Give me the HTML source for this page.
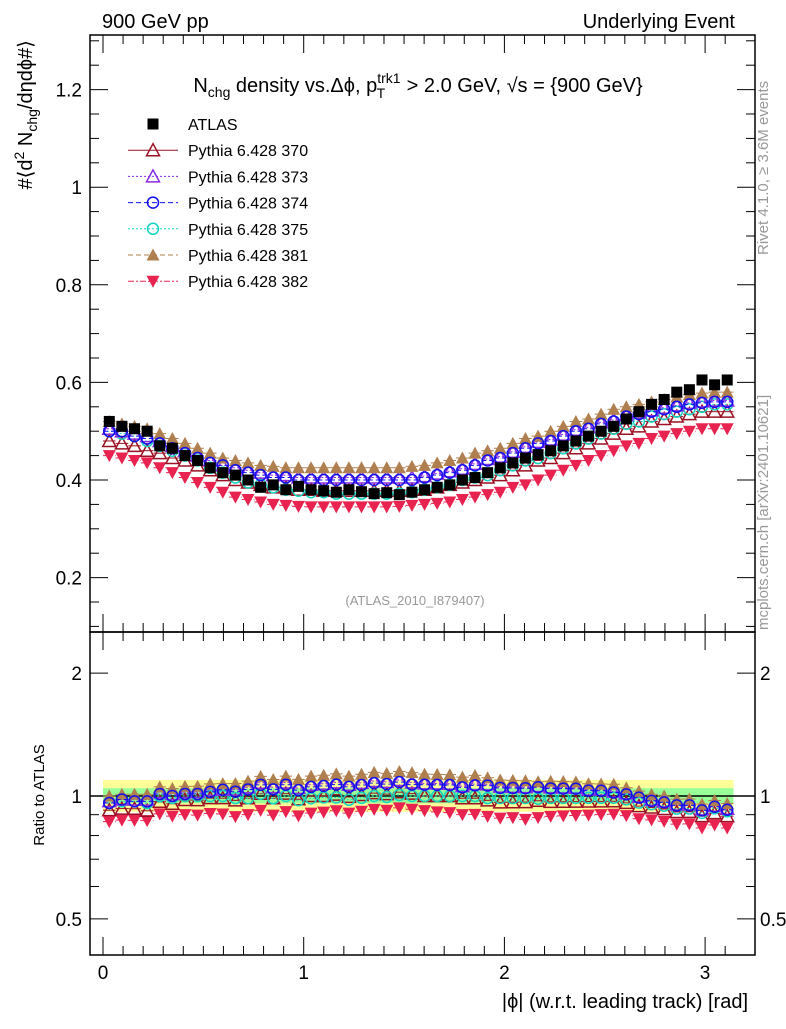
<!DOCTYPE html>
<html><head><meta charset="utf-8"><style>
body{margin:0;background:#fff;width:786px;height:1024px;overflow:hidden}
svg text{font-family:"Liberation Sans",sans-serif}
</style></head><body>
<svg id="c" width="786" height="1024" xmlns="http://www.w3.org/2000/svg">
<text x="102" y="28" font-size="20">900 GeV pp</text>
<text x="735" y="28" font-size="20" text-anchor="end">Underlying Event</text>
<g id="plot"></g>
<text x="418" y="92" font-size="20" text-anchor="middle">N<tspan font-size="14" dy="5">chg</tspan><tspan dy="-5"> density vs.Δϕ, p</tspan><tspan font-size="14" dy="-9">trk1</tspan><tspan font-size="14" dx="-24" dy="15">T</tspan><tspan dx="16" dy="-6"> &gt; 2.0 GeV, √s = {900 GeV}</tspan></text>
<text x="415" y="605" font-size="13" fill="#999" text-anchor="middle">(ATLAS_2010_I879407)</text>
<text transform="translate(32,40) rotate(-90)" font-size="20" text-anchor="end">#⟨d<tspan font-size="14" dy="-8">2</tspan><tspan dy="8"> N</tspan><tspan font-size="14" dy="5">chg</tspan><tspan dy="-5">/dηdϕ#⟩</tspan></text>
<text transform="translate(44,795) rotate(-90)" font-size="15" text-anchor="middle">Ratio to ATLAS</text>
<text x="748" y="1008" font-size="20" text-anchor="end">|ϕ| (w.r.t. leading track) [rad]</text>
<text transform="translate(768,255) rotate(-90)" font-size="15" fill="#999">Rivet 4.1.0, ≥ 3.6M events</text>
<text transform="translate(768,630) rotate(-90)" font-size="15" fill="#999">mcplots.cern.ch [arXiv:2401.10621]</text>
</svg>
<script>
const atlas=[0.52,0.51,0.505,0.50,0.47,0.465,0.45,0.44,0.425,0.415,0.41,0.40,0.385,0.39,0.38,0.387,0.38,0.378,0.375,0.38,0.376,0.372,0.374,0.37,0.375,
0.38,0.385,0.39,0.40,0.405,0.415,0.425,0.435,0.445,0.452,0.46,0.47,0.48,0.49,0.50,0.51,0.525,0.54,0.555,0.565,0.58,0.585,0.605,0.595,0.605];
const s370=[0.48,0.475,0.47,0.46,0.455,0.445,0.44,0.43,0.42,0.41,0.40,0.395,0.39,0.385,0.385,0.38,0.38,0.378,0.378,0.378,0.378,0.378,0.378,0.378,0.38,
0.38,0.385,0.39,0.395,0.40,0.405,0.41,0.42,0.43,0.44,0.445,0.455,0.465,0.475,0.485,0.495,0.505,0.51,0.52,0.525,0.53,0.535,0.54,0.54,0.54];
const s373=[0.505,0.50,0.495,0.49,0.48,0.47,0.46,0.45,0.44,0.43,0.425,0.42,0.415,0.41,0.41,0.405,0.405,0.405,0.405,0.405,0.405,0.405,0.405,0.405,0.405,
0.408,0.413,0.418,0.423,0.433,0.443,0.448,0.458,0.468,0.478,0.483,0.493,0.503,0.508,0.518,0.523,0.533,0.538,0.543,0.548,0.553,0.558,0.561,0.563,0.563];
const s374=[0.50,0.50,0.49,0.485,0.475,0.465,0.455,0.445,0.435,0.43,0.42,0.415,0.41,0.405,0.405,0.40,0.40,0.40,0.40,0.40,0.40,0.40,0.40,0.40,0.40,
0.405,0.41,0.415,0.42,0.43,0.44,0.445,0.455,0.465,0.475,0.48,0.49,0.50,0.505,0.515,0.52,0.53,0.535,0.54,0.545,0.55,0.555,0.558,0.56,0.56];
const s375=[0.50,0.495,0.49,0.48,0.47,0.46,0.45,0.44,0.425,0.415,0.405,0.395,0.39,0.385,0.38,0.378,0.375,0.375,0.372,0.372,0.372,0.372,0.372,0.372,0.375,
0.38,0.385,0.39,0.40,0.405,0.41,0.42,0.43,0.44,0.445,0.455,0.465,0.475,0.485,0.495,0.505,0.515,0.52,0.53,0.535,0.54,0.545,0.55,0.555,0.555];
const s381=[0.52,0.515,0.51,0.505,0.495,0.485,0.475,0.465,0.455,0.445,0.44,0.435,0.43,0.428,0.425,0.425,0.425,0.425,0.425,0.425,0.425,0.425,0.425,0.425,0.428,
0.43,0.435,0.44,0.445,0.455,0.46,0.465,0.475,0.485,0.49,0.50,0.51,0.52,0.525,0.535,0.545,0.55,0.555,0.56,0.565,0.57,0.575,0.578,0.58,0.58];
const s382=[0.45,0.445,0.44,0.435,0.425,0.415,0.405,0.395,0.385,0.375,0.365,0.36,0.355,0.35,0.348,0.346,0.345,0.345,0.345,0.345,0.345,0.345,0.345,0.346,0.348,
0.35,0.352,0.355,0.36,0.365,0.37,0.375,0.385,0.39,0.40,0.41,0.42,0.43,0.44,0.45,0.46,0.47,0.475,0.485,0.49,0.495,0.50,0.505,0.505,0.505];
const xTicks=[0,1,2,3], yTicks=[0.2,0.4,0.6,0.8,1,1.2], rTicks=[0.5,1,2];
const NS="http://www.w3.org/2000/svg";
const L=90,R=755,T=35,M=632,B=955;
const X=v=>103+v*200.7;
const Y=v=>480-(v-0.4)*488;
const RY=v=>796-Math.log10(v)*408;
const g=document.getElementById('plot');
function mk(tag,at,parent){const e=document.createElementNS(NS,tag);for(const k in at)e.setAttribute(k,at[k]);(parent||g).appendChild(e);return e;}
let e=mk('rect',{x:X(0),y:RY(1.095),width:X(Math.PI)-X(0),height:RY(0.915)-RY(1.095),fill:'#ffff99'});


e=mk('rect',{x:X(0),y:RY(1.045),width:X(Math.PI)-X(0),height:RY(0.96)-RY(1.045),fill:'#99ff99'});


e=mk('line',{x1:L,x2:R,y1:RY(1),y2:RY(1),stroke:'#000','stroke-width':1.5});


e=mk('rect',{x:L,y:T,width:R-L,height:M-T,fill:'none',stroke:'#000','stroke-width':1.5});


e=mk('rect',{x:L,y:M,width:R-L,height:B-M,fill:'none',stroke:'#000','stroke-width':1.5});


for(let v=0.1;v<=1.31;v+=0.05){const maj=Math.abs(v*5-Math.round(v*5))<1e-6;const y=Y(v);if(y<T||y>M)continue;const w=maj?18:9;
 mk('line',{x1:L,x2:L+w,y1:y,y2:y,stroke:'#000'});mk('line',{x1:R,x2:R-w,y1:y,y2:y,stroke:'#000'});}
yTicks.forEach(v=>{const t=mk('text',{x:L-8,y:Y(v)+7,'font-size':19,'text-anchor':'end'});t.textContent=v;

});
[0.4,0.5,0.6,0.7,0.8,0.9,1,2].forEach(v=>{const y=RY(v);if(y<M||y>B)return;const w=(v==0.5||v==1||v==2)?18:9;
 mk('line',{x1:L,x2:L+w,y1:y,y2:y,stroke:'#000'});mk('line',{x1:R,x2:R-w,y1:y,y2:y,stroke:'#000'});});
rTicks.forEach(v=>{let t=mk('text',{x:L-8,y:RY(v)+7,'font-size':19,'text-anchor':'end'});t.textContent=v;


t=mk('text',{x:R+5,y:RY(v)+7,'font-size':19});t.textContent=v;

});
for(let v=0;v<=3.2;v+=0.1){const x=X(v);if(x>R)break;const maj=Math.abs(v-Math.round(v))<1e-6;const w=maj?18:9;
 [[M,M-w],[T,T+w],[B,B-w],[M,M+w]].forEach(p=>mk('line',{x1:x,x2:x,y1:p[0],y2:p[1],stroke:'#000'}));}
xTicks.forEach(v=>{const t=mk('text',{x:X(v),y:979,'font-size':19,'text-anchor':'middle'});t.textContent=v;

});
function marker(type,col,cx,cy,par){
 if(type=='sq')return mk('rect',{x:cx-5.5,y:cy-5.5,width:11,height:11,fill:col},par);
 if(type=='ot')return mk('polygon',{points:`${cx},${cy-6.5} ${cx-6.5},${cy+5.5} ${cx+6.5},${cy+5.5}`,fill:'none',stroke:col,'stroke-width':1.5},par);
 if(type=='ft')return mk('polygon',{points:`${cx},${cy-6.5} ${cx-6.5},${cy+5.5} ${cx+6.5},${cy+5.5}`,fill:col},par);
 if(type=='dt')return mk('polygon',{points:`${cx},${cy+6.5} ${cx-6.5},${cy-5.5} ${cx+6.5},${cy-5.5}`,fill:col},par);
 if(type=='oc')return mk('circle',{cx,cy,r:5.5,fill:'none',stroke:col,'stroke-width':1.5},par);
}
const series=[
 {n:'Pythia 6.428 382',d:s382,c:'#e8234f',m:'dt',dash:'6,2,2,2'},
 {n:'Pythia 6.428 370',d:s370,c:'#9b1022',m:'ot',dash:''},
 {n:'Pythia 6.428 375',d:s375,c:'#14d3c0',m:'oc',dash:'2,2'},
 {n:'Pythia 6.428 373',d:s373,c:'#8a2be2',m:'ot',dash:'2,2'},
 {n:'Pythia 6.428 381',d:s381,c:'#b07f50',m:'ft',dash:'5,3'},
 {n:'Pythia 6.428 374',d:s374,c:'#1010ee',m:'oc',dash:'5,3'},
];
const xs=atlas.map((_,i)=>(i+0.5)*Math.PI/50);
const bw=(Math.PI/50)*200.7/2;
series.forEach(s=>{
 const grp=mk('g',{});
 
 
 s.d.forEach((v,i)=>{const x=X(xs[i]);
  mk('line',{x1:x-bw,x2:x+bw,y1:Y(v),y2:Y(v),stroke:s.c,'stroke-dasharray':s.dash},grp);
  let p=marker(s.m,s.c,x,Y(v),grp);
  
  
  const r=v/atlas[i];
  mk('line',{x1:x-bw,x2:x+bw,y1:RY(r),y2:RY(r),stroke:s.c,'stroke-dasharray':s.dash},grp);
  p=marker(s.m,s.c,x,RY(r),grp);
  
  
 });
});
const ag=mk('g',{});


atlas.forEach((v,i)=>{const p=marker('sq','#000',X(xs[i]),Y(v),ag);

});
const leg=[{n:'ATLAS',c:'#000',m:'sq',dash:''},
 {n:'Pythia 6.428 370',c:'#9b1022',m:'ot',dash:''},{n:'Pythia 6.428 373',c:'#8a2be2',m:'ot',dash:'2,2'},
 {n:'Pythia 6.428 374',c:'#1010ee',m:'oc',dash:'5,3'},{n:'Pythia 6.428 375',c:'#14d3c0',m:'oc',dash:'2,2'},
 {n:'Pythia 6.428 381',c:'#b07f50',m:'ft',dash:'5,3'},{n:'Pythia 6.428 382',c:'#e8234f',m:'dt',dash:'6,2,2,2'}];
leg.forEach((l,i)=>{const y=124+i*26.2;const lg=mk('g',{});
 
 
 if(i>0)mk('line',{x1:128,x2:178,y1:y,y2:y,stroke:l.c,'stroke-dasharray':l.dash},lg);
 marker(l.m,l.c,153,y,lg);
 const t=mk('text',{x:188,y:y+6,'font-size':16},lg);t.textContent=l.n;});
</script>
</body></html>
